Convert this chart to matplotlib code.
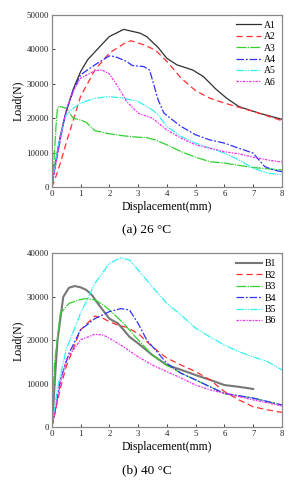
import matplotlib
matplotlib.use("Agg")
import matplotlib.pyplot as plt

plt.rcParams['font.family'] = ['Liberation Serif', 'DejaVu Serif']

# ---- Data (a) 26 °C ----
a1_x = [0, 0.1, 0.3, 0.5, 0.75, 1.0, 1.25, 1.56, 2.0, 2.5, 3.07, 3.3, 3.7, 4.0, 4.35, 4.9, 5.27, 5.7, 6.08, 6.5, 7.2, 8.0]
a1_y = [0, 6000, 15000, 22000, 28500, 33500, 37000, 39800, 43700, 45800, 44700, 43700, 40500, 37400, 35500, 34000, 32100, 28500, 25800, 23400, 21500, 19700]
a2_x = [0, 0.1, 0.3, 0.5, 0.75, 1.0, 1.5, 2.0, 2.5, 2.75, 3.2, 3.6, 4.0, 4.5, 5.0, 5.5, 6.0, 7.0, 8.0]
a2_y = [0, 2000, 7000, 12800, 19500, 26300, 34000, 38900, 41600, 42500, 41300, 39800, 36500, 31600, 28000, 25800, 24400, 22000, 19300]
a3_x = [0, 0.08, 0.15, 0.2, 0.25, 0.5, 0.75, 1.0, 1.2, 1.5, 2.0, 2.5, 3.0, 3.3, 3.6, 4.0, 4.5, 5.0, 5.5, 6.0, 7.0, 8.0]
a3_y = [0, 8000, 18000, 23000, 23500, 22900, 20000, 19500, 18800, 16400, 15500, 14900, 14500, 14400, 13700, 12300, 10300, 8700, 7400, 7000, 5700, 5000]
a4_x = [0, 0.1, 0.3, 0.5, 0.75, 1.0, 1.5, 2.0, 2.2, 2.6, 2.8, 3.2, 3.4, 3.5, 3.7, 3.9, 4.2, 4.5, 5.0, 5.5, 6.0, 6.5, 7.0, 7.2, 7.4, 7.7, 8.0]
a4_y = [0, 5000, 14000, 22000, 28000, 32600, 35500, 38100, 37900, 36500, 35300, 35000, 34000, 31100, 25300, 21500, 19500, 17600, 15200, 13700, 12800, 11300, 9900, 7900, 6000, 5000, 4500]
a5_x = [0, 0.1, 0.3, 0.5, 0.75, 1.0, 1.5, 2.0, 2.5, 3.0, 3.5, 3.7, 4.0, 4.5, 5.0, 5.5, 6.0, 6.5, 7.0, 7.5, 8.0]
a5_y = [0, 6000, 15000, 21000, 22900, 24400, 25800, 26300, 25800, 24900, 22400, 21000, 17600, 14700, 12800, 11300, 9900, 7900, 5500, 4100, 3600]
a6_x = [0, 0.1, 0.3, 0.5, 0.75, 1.0, 1.5, 1.75, 2.0, 2.3, 2.6, 3.0, 3.5, 4.0, 4.5, 5.0, 5.5, 6.0, 6.5, 7.0, 7.5, 8.0]
a6_y = [0, 5000, 14000, 22400, 28000, 31600, 33800, 34000, 32900, 29200, 24900, 21500, 20000, 16600, 14200, 12300, 11300, 10300, 9700, 8700, 7900, 7300]

# ---- Data (b) 40 °C ----
b1_x = [0, 0.05, 0.1, 0.2, 0.4, 0.6, 0.8, 1.0, 1.2, 1.4, 1.6, 2.0, 2.3, 2.5, 2.7, 3.0, 3.5, 4.0, 4.5, 5.0, 5.5, 6.0, 6.5, 7.0]
b1_y = [0, 4000, 10000, 20000, 30000, 32100, 32500, 32200, 31600, 30400, 28500, 25000, 23900, 22400, 20800, 19300, 16600, 14300, 13200, 12000, 10900, 9700, 9300, 8800]
b2_x = [0, 0.1, 0.3, 0.5, 1.0, 1.5, 1.8, 2.0, 2.3, 2.6, 3.0, 3.5, 4.0, 4.5, 5.0, 5.5, 6.0, 6.5, 7.0, 7.5, 8.0]
b2_y = [0, 3000, 9000, 13900, 22400, 25600, 25000, 24300, 23500, 23000, 21600, 18500, 15900, 14300, 12800, 10900, 8200, 6300, 4700, 4000, 3400]
b3_x = [0, 0.05, 0.1, 0.3, 0.6, 1.0, 1.2, 1.5, 1.8, 2.0, 2.5, 3.0, 3.5, 4.0, 4.5, 5.0, 5.5, 6.0, 7.0, 8.0]
b3_y = [0, 7000, 15000, 26200, 28500, 29400, 29600, 29300, 28100, 27000, 23900, 20100, 16600, 14300, 12400, 10900, 9300, 7700, 6700, 5100]
b4_x = [0, 0.1, 0.3, 0.6, 1.0, 1.5, 2.0, 2.4, 2.7, 3.0, 3.3, 3.6, 4.0, 4.5, 5.0, 5.5, 6.0, 7.0, 8.0]
b4_y = [0, 3000, 10900, 17000, 22400, 25000, 26600, 27300, 27000, 23900, 20100, 17800, 14700, 12400, 10900, 9300, 7800, 6700, 5100]
b5_x = [0, 0.2, 0.5, 1.0, 1.5, 2.0, 2.4, 2.7, 3.0, 3.5, 4.0, 4.5, 5.0, 5.5, 6.0, 6.5, 7.0, 7.5, 8.0]
b5_y = [0, 9000, 17800, 26200, 33100, 37700, 39000, 38500, 36200, 32300, 28500, 25800, 22800, 20800, 18900, 17400, 16200, 15100, 13200]
b6_x = [0, 0.1, 0.3, 0.5, 1.0, 1.5, 1.8, 2.0, 2.5, 3.0, 3.5, 4.0, 4.5, 5.0, 5.5, 6.0, 7.0, 8.0]
b6_y = [0, 3000, 10000, 15500, 20100, 21400, 21200, 20500, 18500, 16200, 14300, 12800, 11300, 9700, 8600, 7800, 6300, 4900]

a_labels = ['A1', 'A2', 'A3', 'A4', 'A5', 'A6']
b_labels = ['B1', 'B2', 'B3', 'B4', 'B5', 'B6']

colors = ['#303030', '#ff3030', '#30d030', '#3030ff', '#30f0f0', '#f030f0']
styles = ['-', (0, (5, 3)), (0, (8, 1, 1, 1)), (0, (6, 1.5, 1.5, 1.5)), (0, (6, 1, 1, 1, 1, 1)), (0, (2, 1, 1, 1))]

fig = plt.figure(figsize=(2.94, 4.8), dpi=100)
ax1 = fig.add_axes([0.176, 0.610, 0.783, 0.359])
ax2 = fig.add_axes([0.176, 0.110, 0.783, 0.362])

def style_ax(ax, ymax):
    ax.set_xlim(0, 8)
    ax.set_ylim(0, ymax)
    ax.set_xticks(range(0, 9))
    ax.set_yticks(range(0, ymax + 1, 10000))
    ax.tick_params(direction='in', labelsize=6.3, length=2.5, width=0.6, colors='#222222', pad=2)
    for s in ax.spines.values():
        s.set_color('#888888')
        s.set_linewidth(0.9)
    ax.set_xlabel('Displacement(mm)', fontsize=8.5, labelpad=2)

a_data = [(a1_x, a1_y), (a2_x, a2_y), (a3_x, a3_y), (a4_x, a4_y), (a5_x, a5_y), (a6_x, a6_y)]
b_data = [(b1_x, b1_y), (b2_x, b2_y), (b3_x, b3_y), (b4_x, b4_y), (b5_x, b5_y), (b6_x, b6_y)]

for (x, y), lab, c, ls in zip(a_data, a_labels, colors, styles):
    ax1.plot(x, y, color=c, linestyle=ls, linewidth=0.9, label=lab)
for i, ((x, y), lab, c, ls) in enumerate(zip(b_data, b_labels, colors, styles)):
    ax2.plot(x, y, color=('#777777' if i == 0 else c), linestyle=ls,
             linewidth=(1.5 if i == 0 else 0.9), label=lab)

style_ax(ax1, 50000)
style_ax(ax2, 40000)
ax1.set_ylabel('Load(N)', fontsize=8.5, labelpad=2)
ax2.set_ylabel('Load(N)', fontsize=8.5, labelpad=2)

for ax in (ax1, ax2):
    ax.legend(loc='upper right', frameon=False, fontsize=7, handlelength=2.6,
              handletextpad=0.3, labelspacing=0.25, borderaxespad=0.2)

fig.text(0.5, 0.515, '(a) 26 °C', ha='center', fontsize=9.5)
fig.text(0.5, 0.015, '(b) 40 °C', ha='center', fontsize=9.5)

fig.savefig('out.png', dpi=100)
